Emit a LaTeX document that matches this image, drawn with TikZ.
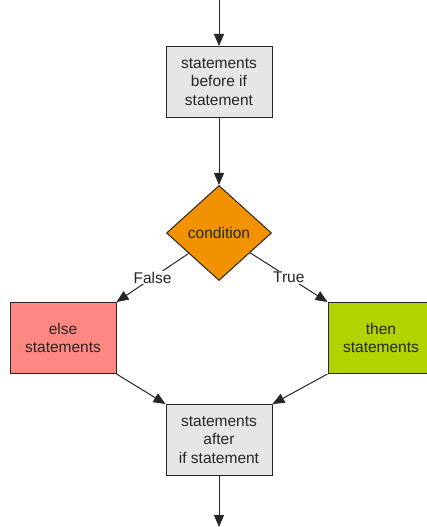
\documentclass[tikz,border=0pt]{standalone}
\usepackage{fontspec}
\setmainfont{Liberation Sans}
\usetikzlibrary{shapes.geometric}
\usetikzlibrary{arrows.meta}

\definecolor{boxgray}{HTML}{E6E6E6}
\definecolor{condorange}{HTML}{F39200}
\definecolor{elsered}{HTML}{FF8882}
\definecolor{thengreen}{HTML}{B3D300}
\definecolor{inkgray}{HTML}{262626}

\begin{document}
\begin{tikzpicture}[x=1pt, y=-1pt]

\def\xmid{219}
\def\xleft{63}
\def\xright{381}
\def\yside{338}

\tikzset{stmt/.style = {draw=inkgray, line width=1pt, text=inkgray,
                        minimum width=106pt, minimum height=71pt,
                        inner sep=0pt, align=center,
                        font=\fontsize{15.5}{18.2}\selectfont}
        }

\tikzset{cond/.style = {shape=diamond, draw=inkgray, line width=1pt,
                        fill=condorange, text=inkgray,
                        minimum width=105pt, minimum height=95pt,
                        inner sep=0pt, aspect=1.1,
                        font=\fontsize{15.5}{18.2}\selectfont}
        }

\tikzset{flow/.style = {line width=1pt, draw=inkgray,
                        -{Triangle[length=12pt, width=10pt]}}
        }

\tikzset{branch/.style = {fill=white, text=inkgray, inner sep=1pt,
                          font=\fontsize{15.5}{18.2}\selectfont}
         }

\clip (0,0) rectangle (427,527);

%statements
\node[stmt, fill=boxgray]   (before) at (\xmid, 82)  {statements\\before if\\statement};
\node[cond]                 (test)   at (\xmid, 233) {condition};
\node[stmt, fill=elsered]   (else)   at (\xleft, \yside)  {else\\statements};
\node[stmt, fill=thengreen] (then)   at (\xright, \yside) {then\\statements};
\node[stmt, fill=boxgray]   (after)  at (\xmid, 440) {statements\\after\\if statement};

\coordinate (in)  at (\xmid, 0);
\coordinate (out) at (\xmid, 527);

%flow
\draw[flow] (in) -- (before);
\draw[flow] (before) -- (test);
\draw[flow] (test) -- node[branch] {False} (else.north east);
\draw[flow] (test) -- node[branch] {True}  (then.north west);
\draw[flow] (else.south east) -- (after.north west);
\draw[flow] (then.south west) -- (after.north east);
\draw[flow] (after) -- (out);

\end{tikzpicture}
\end{document}
